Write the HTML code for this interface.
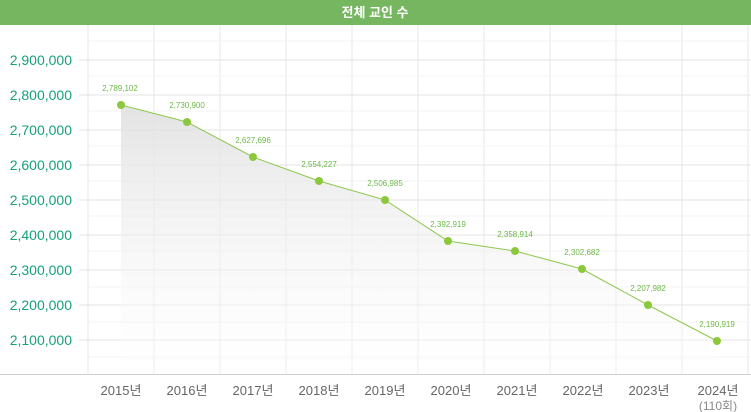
<!DOCTYPE html>
<html><head><meta charset="utf-8"><style>
body{margin:0;background:#fff;}
svg{display:block;font-family:"Liberation Sans","Noto Sans CJK KR",sans-serif;}
</style></head><body>
<svg width="751" height="412" viewBox="0 0 751 412" xmlns="http://www.w3.org/2000/svg">
<defs><linearGradient id="g" x1="0" y1="0" x2="0" y2="1"><stop offset="0" stop-color="#e0e0e0"/><stop offset="1" stop-color="#ffffff" stop-opacity="0.3"/></linearGradient></defs>
<rect x="0" y="0" width="751" height="25" fill="#77b661"/>
<text x="375" y="17" fill="#fff" font-size="13" font-weight="bold" text-anchor="middle">전체 교인 수</text>
<g stroke="#f3f3f3" stroke-width="1">
<line x1="88" y1="41" x2="751" y2="41"/><line x1="88" y1="76" x2="751" y2="76"/><line x1="88" y1="111" x2="751" y2="111"/><line x1="88" y1="146" x2="751" y2="146"/><line x1="88" y1="181" x2="751" y2="181"/><line x1="88" y1="216" x2="751" y2="216"/><line x1="88" y1="251" x2="751" y2="251"/><line x1="88" y1="287" x2="751" y2="287"/><line x1="88" y1="322" x2="751" y2="322"/><line x1="88" y1="357" x2="751" y2="357"/>
<line x1="88" y1="25" x2="88" y2="374" stroke-width="2"/><line x1="154" y1="25" x2="154" y2="374" stroke-width="2"/><line x1="220" y1="25" x2="220" y2="374" stroke-width="2"/><line x1="286" y1="25" x2="286" y2="374" stroke-width="2"/><line x1="352" y1="25" x2="352" y2="374" stroke-width="2"/><line x1="418" y1="25" x2="418" y2="374" stroke-width="2"/><line x1="484" y1="25" x2="484" y2="374" stroke-width="2"/><line x1="550" y1="25" x2="550" y2="374" stroke-width="2"/><line x1="616" y1="25" x2="616" y2="374" stroke-width="2"/><line x1="682" y1="25" x2="682" y2="374" stroke-width="2"/><line x1="748" y1="25" x2="748" y2="374" stroke-width="2"/>
</g>
<g stroke="#e3e3e3" stroke-width="1">
<line x1="79" y1="60" x2="751" y2="60"/><line x1="79" y1="95" x2="751" y2="95"/><line x1="79" y1="130" x2="751" y2="130"/><line x1="79" y1="165" x2="751" y2="165"/><line x1="79" y1="200" x2="751" y2="200"/><line x1="79" y1="235" x2="751" y2="235"/><line x1="79" y1="270" x2="751" y2="270"/><line x1="79" y1="305" x2="751" y2="305"/><line x1="79" y1="340" x2="751" y2="340"/>
</g>
<line x1="0" y1="374.5" x2="751" y2="374.5" stroke="#cfcfcf"/>
<g fill="#17a07a" font-size="14" text-anchor="end">
<text x="72" y="65">2,900,000</text><text x="72" y="100">2,800,000</text><text x="72" y="135">2,700,000</text><text x="72" y="170">2,600,000</text><text x="72" y="205">2,500,000</text><text x="72" y="240">2,400,000</text><text x="72" y="275">2,300,000</text><text x="72" y="310">2,200,000</text><text x="72" y="345">2,100,000</text>
</g>
<polygon points="121,105 187,122 253,157 319,181 385,200 448,241 515,251 582,269 648,305 717,341 717,374 121,374" fill="url(#g)" opacity="0.9"/>
<polyline points="121,105 187,122 253,157 319,181 385,200 448,241 515,251 582,269 648,305 717,341" fill="none" stroke="#8cc84b" stroke-width="1"/>
<g fill="#8cc83c">
<circle cx="121" cy="105" r="4"/><circle cx="187" cy="122" r="4"/><circle cx="253" cy="157" r="4"/><circle cx="319" cy="181" r="4"/><circle cx="385" cy="200" r="4"/><circle cx="448" cy="241" r="4"/><circle cx="515" cy="251" r="4"/><circle cx="582" cy="269" r="4"/><circle cx="648" cy="305" r="4"/><circle cx="717" cy="341" r="4"/>
</g>
<g fill="#6cb848" font-size="8" text-anchor="middle">
<text x="120" y="91">2,789,102</text><text x="187" y="108">2,730,900</text><text x="253" y="143">2,627,696</text><text x="319" y="167">2,554,227</text><text x="385" y="186">2,506,985</text><text x="448" y="227">2,392,919</text><text x="515" y="237">2,358,914</text><text x="582" y="255">2,302,682</text><text x="648" y="291">2,207,982</text><text x="717" y="327">2,190,919</text>
</g>
<g fill="#666" font-size="13" text-anchor="middle">
<text x="121" y="395">2015년</text><text x="187" y="395">2016년</text><text x="253" y="395">2017년</text><text x="319" y="395">2018년</text><text x="385" y="395">2019년</text><text x="451" y="395">2020년</text><text x="517" y="395">2021년</text><text x="583" y="395">2022년</text><text x="649" y="395">2023년</text><text x="718" y="395">2024년</text>
<text x="718" y="410" fill="#888" font-size="12">(110회)</text>
</g>
</svg>
</body></html>
